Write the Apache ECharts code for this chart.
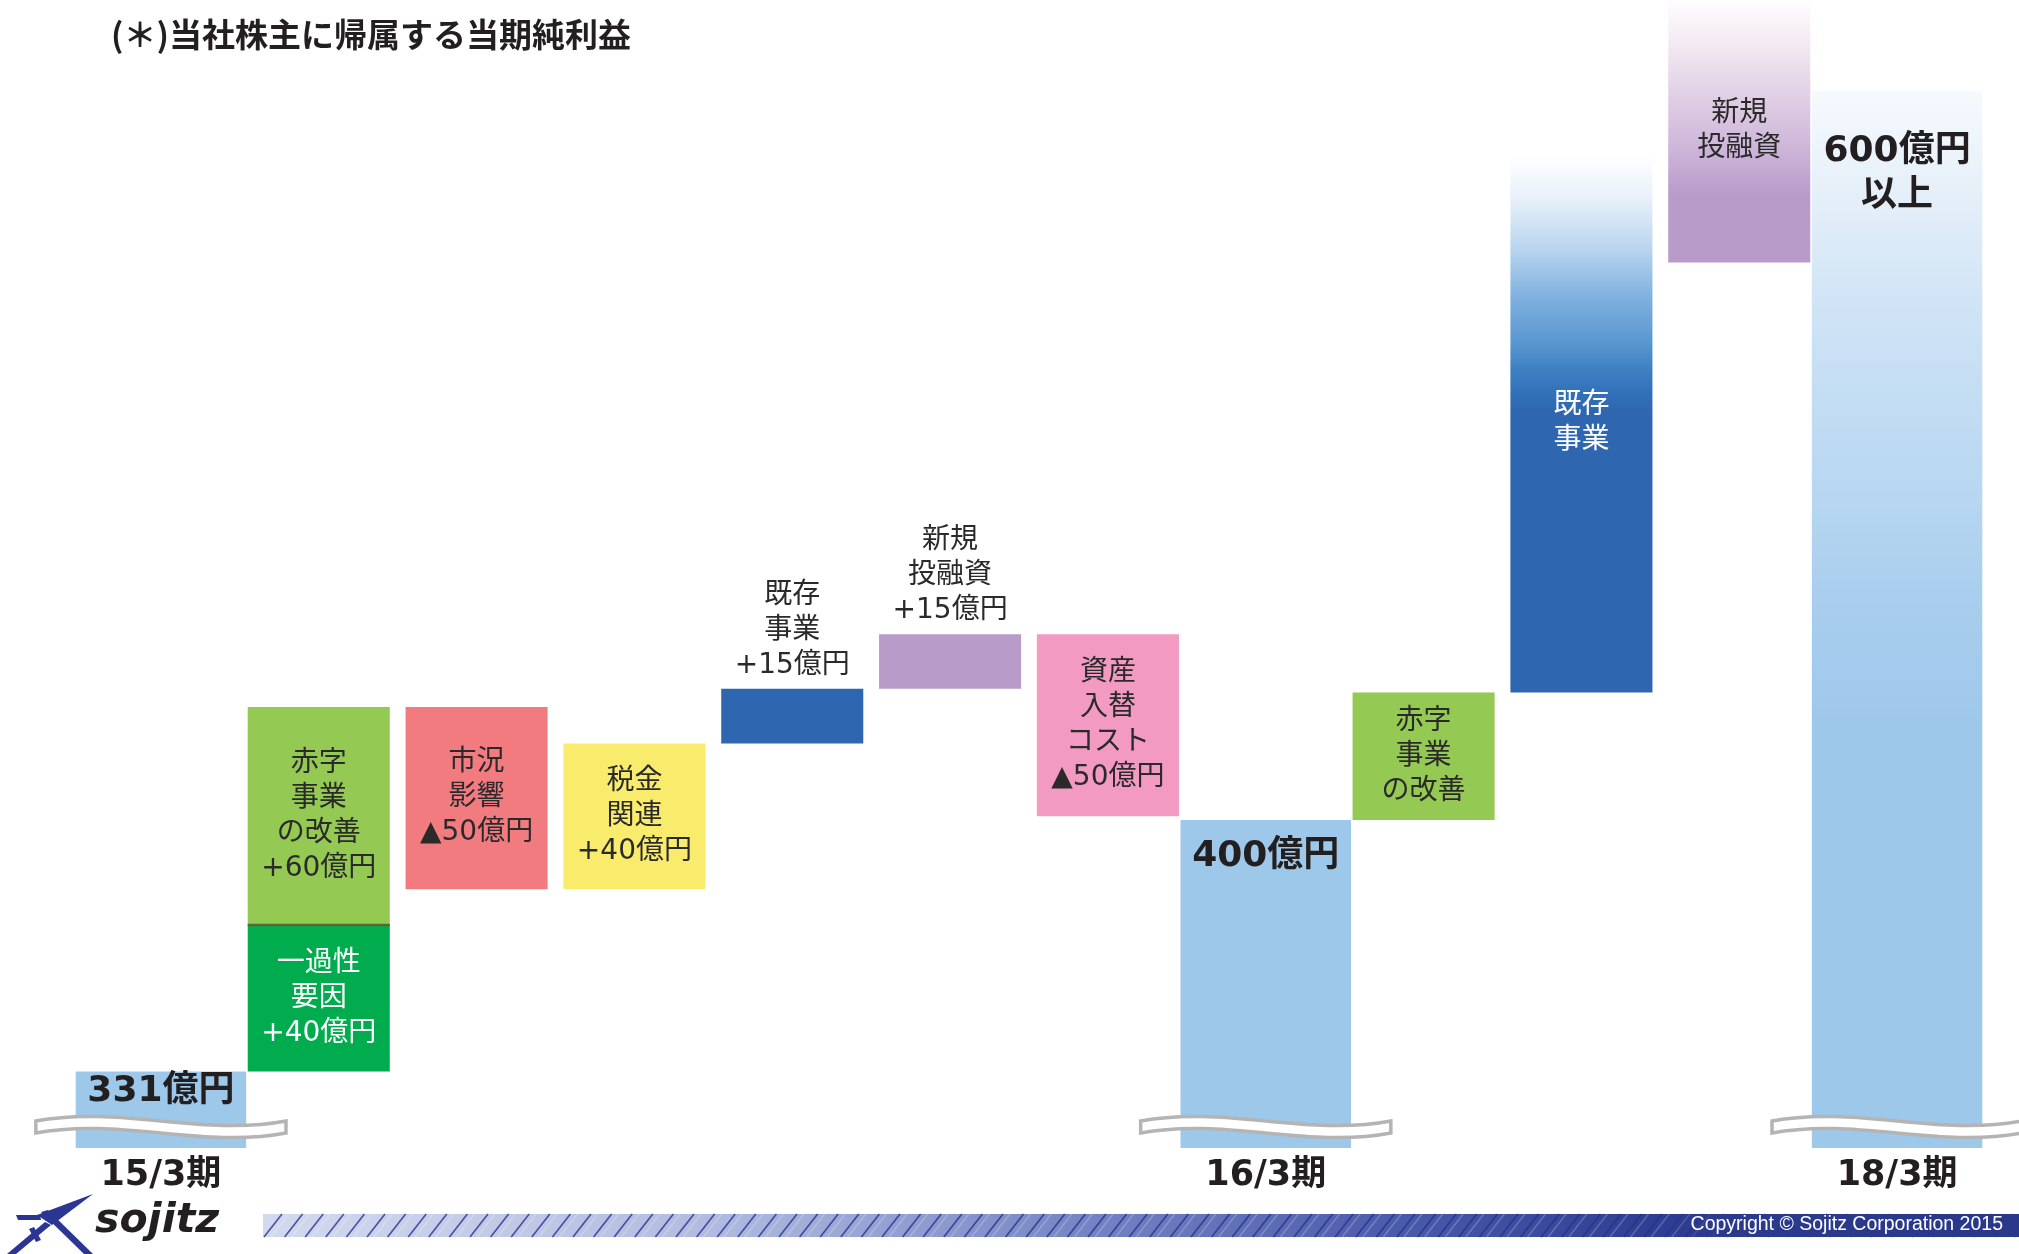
<!DOCTYPE html>
<html lang="ja">
<head>
<meta charset="utf-8">
<title>当社株主に帰属する当期純利益</title>
<script src="https://cdn.jsdelivr.net/npm/echarts@6/dist/echarts.min.js"></script>
<style>
  html, body { margin: 0; padding: 0; background: #ffffff; }
  #chart { width: 2019px; height: 1254px; }
</style>
</head>
<body>
<div id="chart"></div>
<script>
// ---------------- data ----------------
const categories = ['15/3期', '一過性要因・赤字事業の改善', '市況影響', '税金関連', '既存事業', '新規投融資',
  '資産入替コスト', '16/3期', '赤字事業の改善', '既存事業', '新規投融資', '18/3期'];

// period totals (億円)
const totalCats = [0, 7, 11];
const totalValues = [331, 400, 600];
const totalLabels = ['331億円', '400億円', '600億円\n以上'];

// 15/3期 → 16/3期 bridge (億円)
const bridgeCats = [1, 1, 2, 3, 4, 5, 6];
const bridgeDeltas = [40, 60, -50, 40, 15, 15, -50];
const bridgeLabels = ['一過性\n要因\n+40億円', '赤字\n事業\nの改善\n+60億円', '市況\n影響\n▲50億円',
  '税金\n関連\n+40億円', '既存\n事業\n+15億円', '新規\n投融資\n+15億円', '資産\n入替\nコスト\n▲50億円'];

// 16/3期 → 18/3期 plan (億円)
const planCats = [8, 9, 10];
const planFrom = [400, 435, 553];
const planTo = [435, 583, 625];
const planLabels = ['赤字\n事業\nの改善', '既存\n事業', '新規\n投融資'];

// truncated value axis
const AXIS_MIN = 310;
const AXIS_MAX = 625;

// ---------------- styles ----------------
const FONT = '"DejaVu Sans", "Noto Sans CJK JP", sans-serif';
const INK = '#231F20';
const DARK = '#2A2A2A';

const vgrad = (stops) => ({ type: 'linear', x: 0, y: 0, x2: 0, y2: 1,
  colorStops: stops.map(([o, c]) => ({ offset: o, color: c })) });

const totalStyle = [
  { fill: '#9DC8EA', drop: 20, lineHeight: 40 },
  { fill: '#9DC8EA', drop: 37, lineHeight: 40 },
  { fill: vgrad([[0, '#F5FAFE'], [0.1, '#E5EFF9'], [0.2, '#D0E4F6'], [0.29, '#C3DDF3'],
      [0.39, '#B6D6F1'], [0.48, '#A9CEEE'], [0.58, '#A0C9EB'], [0.6, '#9DC8EA'], [1, '#9DC8EA']]),
    drop: 83, lineHeight: 45 }
];

const bridgeStyle = [
  { fill: '#00AC4E', text: '#FFFFFF' },
  { fill: '#94C954', text: DARK, rule: '#55692C' },
  { fill: '#F27B80', text: DARK },
  { fill: '#F9EC6D', text: DARK },
  { fill: '#2E67B0', text: DARK, outside: true },
  { fill: '#B99BC9', text: DARK, outside: true },
  { fill: '#F39AC2', text: DARK }
];

const planStyle = [
  { fill: '#94C954', text: DARK },
  { fill: vgrad([[0, '#FFFFFF'], [0.02, '#FBFDFF'], [0.09, '#E6EFF9'], [0.18, '#B8D4EE'], [0.27, '#7EB0DF'],
      [0.35, '#5A98D0'], [0.4, '#3F80C3'], [0.445, '#3271B8'], [0.48, '#2E67B0'], [1, '#2E67B0']]), text: '#FFFFFF' },
  { fill: vgrad([[0, '#FFFFFF'], [0.02, '#FDFBFD'], [0.15, '#F4ECF4'], [0.27, '#EADCEB'], [0.42, '#DCC8E2'],
      [0.57, '#CDB5D9'], [0.71, '#BD9FCC'], [0.75, '#B99BC9'], [1, '#B99BC9']]), text: DARK }
];

// ---------------- marks ----------------
const marks = [];
totalCats.forEach((c, i) => marks.push({ kind: 'total', cat: c, lo: AXIS_MIN, hi: totalValues[i],
  label: totalLabels[i], style: totalStyle[i] }));
let level = totalValues[0];
bridgeDeltas.forEach((d, i) => {
  const next = level + d;
  marks.push({ kind: 'step', cat: bridgeCats[i], lo: Math.min(level, next), hi: Math.max(level, next),
    label: bridgeLabels[i], style: bridgeStyle[i] });
  level = next;
});
planCats.forEach((c, i) => marks.push({ kind: 'step', cat: c, lo: planFrom[i], hi: planTo[i],
  label: planLabels[i], style: planStyle[i] }));

function renderMark(params, api) {
  const m = marks[api.value(3)];
  const band = api.size([1, 0])[0];
  const w = band * (m.kind === 'total' ? 1.08 : 0.9);
  const top = api.coord([m.cat, m.hi]);
  const bot = api.coord([m.cat, m.lo]);
  const x = top[0] - w / 2;
  const y = top[1];
  const h = bot[1] - top[1];
  const children = [{ type: 'rect', shape: { x: x, y: y, width: w, height: h }, style: { fill: m.style.fill } }];
  if (m.style.rule) {
    children.push({ type: 'rect', shape: { x: x, y: y + h - 2, width: w, height: 2.5 }, style: { fill: m.style.rule } });
  }
  if (m.kind === 'total') {
    children.push({ type: 'text', x: top[0], y: y + m.style.drop, z2: 5,
      style: { text: m.label, fill: INK, align: 'center', verticalAlign: 'middle',
        fontSize: 36, fontWeight: 'bold', fontFamily: FONT, lineHeight: m.style.lineHeight } });
  } else {
    const outside = !!m.style.outside;
    children.push({ type: 'text', x: top[0], y: outside ? y - 6 : y + h / 2, z2: 5,
      style: { text: m.label, fill: m.style.text, align: 'center', verticalAlign: outside ? 'bottom' : 'middle',
        fontSize: 28, fontFamily: FONT, lineHeight: 35 } });
  }
  return { type: 'group', children: children };
}

// wavy "omitted" band across the truncated total bars
function renderBreak(params, api) {
  const p = api.coord([api.value(0), AXIS_MIN]);
  const band = api.size([1, 0])[0];
  const w = band * 1.585;
  const x0 = p[0] - w / 2, x1 = p[0] + w / 2;
  const yc = p[1] - 21, t = 6, a = 16;
  const d = 'M' + x0 + ',' + (yc - t) +
    ' C' + (x0 + w / 3) + ',' + (yc - t - a) + ' ' + (x0 + 2 * w / 3) + ',' + (yc - t + a) + ' ' + x1 + ',' + (yc - t) +
    ' L' + x1 + ',' + (yc + t) +
    ' C' + (x0 + 2 * w / 3) + ',' + (yc + t + a) + ' ' + (x0 + w / 3) + ',' + (yc + t - a) + ' ' + x0 + ',' + (yc + t) + ' Z';
  return { type: 'path', shape: { pathData: d }, style: { fill: '#FFFFFF', stroke: '#B4B4B4', lineWidth: 3.5 } };
}

// ---------------- footer decoration ----------------
const footer = [];
footer.push({ type: 'rect', left: 263, top: 1214, shape: { width: 1756, height: 23 },
  style: { fill: { type: 'linear', x: 0, y: 0, x2: 1, y2: 0, colorStops: [
    { offset: 0, color: '#D3D9EE' }, { offset: 0.25, color: '#B3BCE0' }, { offset: 0.48, color: '#7281C2' },
    { offset: 0.65, color: '#4A5AAA' }, { offset: 0.79, color: '#2F3E92' }, { offset: 1, color: '#293889' }] } } });
for (let sx = 264; sx < 2019; sx += 20.6) {
  footer.push({ type: 'line', shape: { x1: sx, y1: 1237, x2: sx + 18, y2: 1214 },
    style: { stroke: 'rgba(36,50,140,0.8)', lineWidth: 1.6 } });
  footer.push({ type: 'line', shape: { x1: sx + 7, y1: 1237, x2: sx + 25, y2: 1214 },
    style: { stroke: 'rgba(255,255,255,0.22)', lineWidth: 1.4 } });
}
footer.push({ type: 'rect', left: 1670, top: 1214, shape: { width: 349, height: 23 },
  style: { fill: { type: 'linear', x: 0, y: 0, x2: 1, y2: 0, colorStops: [
    { offset: 0, color: 'rgba(43,58,140,0)' }, { offset: 0.15, color: 'rgba(43,58,140,1)' }, { offset: 1, color: '#293889' }] } } });
footer.push({ type: 'text', right: 16, top: 1215,
  style: { text: 'Copyright © Sojitz Corporation 2015', fill: '#FFFFFF', fontSize: 19.5,
    fontFamily: '"Liberation Sans", sans-serif' } });
// logo
const NAVY = '#2B3592';
[
  [[93, 1194], [37, 1215], [52, 1225]],
  [[16, 1215], [40, 1215], [41, 1220], [18, 1220]],
  [[41, 1212], [48, 1210], [93, 1254], [84, 1254]],
  [[7, 1254], [16, 1254], [51, 1225], [45, 1222]],
  [[29, 1229], [34, 1227], [41, 1240], [36, 1242]]
].forEach((pts) => footer.push({ type: 'polygon', shape: { points: pts }, style: { fill: NAVY } }));
footer.push({ type: 'text', left: 95, top: 1201,
  style: { text: 'sojitz', fill: INK, fontSize: 41, fontWeight: 'bold', fontStyle: 'italic',
    fontFamily: '"DejaVu Sans", sans-serif' } });

// ---------------- chart ----------------
const chart = echarts.init(document.getElementById('chart'), null, { renderer: 'canvas' });
chart.setOption({
  backgroundColor: '#FFFFFF',
  animation: false,
  title: {
    text: '(＊)当社株主に帰属する当期純利益',
    left: 106, top: 13,
    textStyle: { fontSize: 33, fontWeight: 'bold', color: INK, fontFamily: '"Noto Sans CJK JP", sans-serif' }
  },
  grid: { left: 82, right: 43, top: 0, bottom: 106, containLabel: false, outerBoundsMode: 'none' },
  xAxis: {
    type: 'category',
    data: categories,
    axisLine: { show: false },
    axisTick: { show: false },
    splitLine: { show: false },
    axisLabel: {
      interval: 0,
      margin: 10,
      formatter: (v) => (v.endsWith('期') ? v : ''),
      fontSize: 35, fontWeight: 'bold', color: INK, fontFamily: FONT
    }
  },
  yAxis: { type: 'value', min: AXIS_MIN, max: AXIS_MAX, show: false },
  series: [
    {
      type: 'custom',
      clip: false,
      z: 2,
      renderItem: renderMark,
      encode: { x: 0, y: [1, 2] },
      data: marks.map((m, i) => [m.cat, m.lo, m.hi, i])
    },
    {
      type: 'custom',
      clip: false,
      z: 3,
      renderItem: renderBreak,
      encode: { x: 0, y: 1 },
      data: totalCats.map((c) => [c, AXIS_MIN])
    }
  ],
  graphic: footer
});
</script>
</body>
</html>
